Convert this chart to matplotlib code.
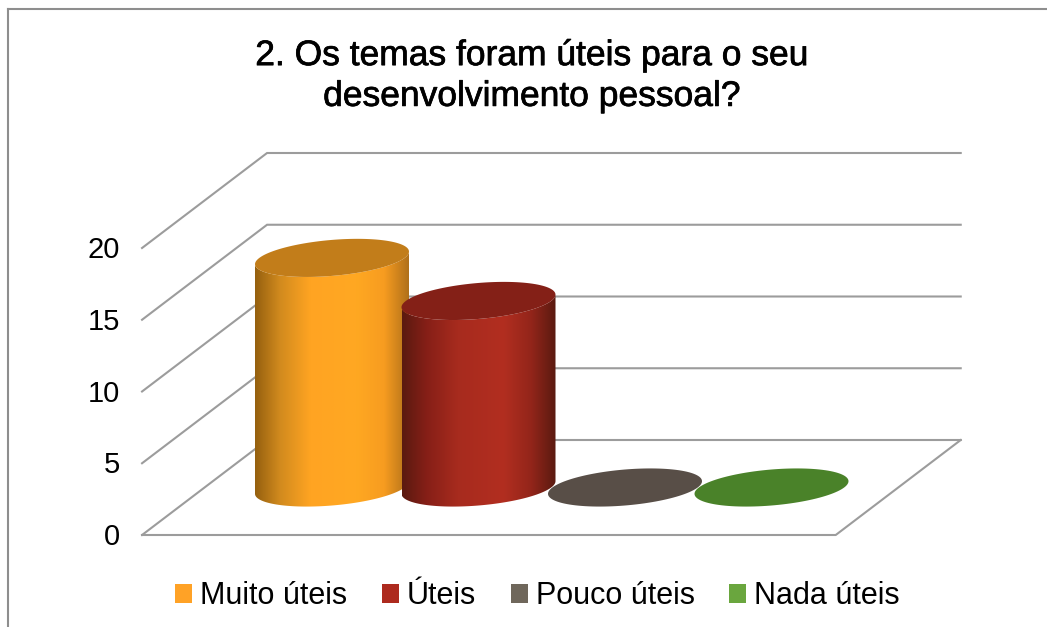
#!/usr/bin/env python3
"""Pseudo-3D cylinder chart: usefulness of the themes."""

import matplotlib

matplotlib.use("Agg")

import matplotlib.patheffects as pe
import matplotlib.pyplot as plt
import numpy as np
from matplotlib.colors import LinearSegmentedColormap
from matplotlib.lines import Line2D
from matplotlib.patches import Patch, PathPatch, Polygon
from matplotlib.path import Path

TITLE = "2. Os temas foram úteis para o seu\ndesenvolvimento pessoal?"
categories = ["Muito úteis", "Úteis", "Pouco úteis", "Nada úteis"]
values = [16, 13, 0, 0]
value_ticks = [0, 5, 10, 15, 20]

legend_colors = ["#FFA226", "#AD2A1E", "#6F675B", "#6AA63E"]
top_colors = ["#C27D1A", "#842017", "#584E47", "#4A8229"]
side_stops = [
    ["#95600F", "#D18A1E", "#FFA422", "#FFA822", "#F79C20", "#B0701A"],
    ["#5A1A10", "#861F17", "#A72B1E", "#B22E20", "#93251A", "#5A1A10"],
    ["#584E47"] * 6,
    ["#4A8229"] * 6,
]
stop_pos = [0.0, 0.16, 0.36, 0.66, 0.84, 1.0]

# pixel layout of the figure, everything else is derived in chart units
W, H = 1047, 627
SLOT_PX, SLOT0_PX = 146.5, 332.0
UNIT_PX, BASE_PX = 14.35, 487.5
DEPTH_X, DEPTH_Y = 62.5 / SLOT_PX, 47.5 / UNIT_PX
FLOOR_LEFT, FLOOR_RIGHT = -0.87, 3.865
RX, RY, SHEAR = 77 / SLOT_PX, 18 / UNIT_PX, 6.3 / UNIT_PX
GRID = "#9C9C9C"
FONT = "Liberation Sans"


def project(slot, value, depth):
    """Chart position of a point, depth -1 is the front and +1 the back."""
    return slot + depth * DEPTH_X, value + depth * DEPTH_Y


def ellipse(slot, value, n=120):
    t = np.linspace(0, 2 * np.pi, n)
    return np.column_stack(
        [slot + RX * np.cos(t), value + RY * np.sin(t) + SHEAR * np.cos(t)]
    )


def body_path(slot, value, n=80):
    """Outline of the cylinder side: lower edge of the top, lower edge of the base."""
    t = np.linspace(np.pi, 2 * np.pi, n)
    x = slot + RX * np.cos(t)
    low = RY * np.sin(t) + SHEAR * np.cos(t)
    pts = np.vstack(
        [
            np.column_stack([x, low]),
            np.column_stack([x[::-1], value + low[::-1]]),
        ]
    )
    return Path(np.vstack([pts, pts[0]]), closed=True)


fig = plt.figure(figsize=(W / 100, H / 100), dpi=100, facecolor="white")
ax = fig.add_axes([0, 0, 1, 1])
ax.axis("off")

# frame of the chart area, only top and left are visible
fig.add_artist(Line2D([8 / W, 8 / W], [0, 1 - 9 / H], color="#8E8E8E", lw=1.5))
fig.add_artist(Line2D([8 / W, 1], [1 - 9 / H, 1 - 9 / H], color="#8E8E8E", lw=1.5))

fig.text(
    532 / W, 1 - 76 / H, TITLE, ha="center", va="center", fontsize=25.5,
    family=FONT, color="black", linespacing=1.3,
    path_effects=[pe.withStroke(linewidth=0.5, foreground="black")],
)

# walls and floor
for v in value_ticks:
    xs, ys = zip(
        project(FLOOR_LEFT, v, -1), project(FLOOR_LEFT, v, 1), project(FLOOR_RIGHT, v, 1)
    )
    ax.plot(xs, ys, color=GRID, lw=1.5, solid_joinstyle="miter", zorder=1)
    ax.text(
        xs[0] - 22 / SLOT_PX, v - DEPTH_Y - 2 / UNIT_PX, str(v), ha="right",
        va="center", fontsize=21, family=FONT, color="black",
    )
xs, ys = zip(
    project(FLOOR_LEFT, 0, -1), project(FLOOR_RIGHT, 0, -1), project(FLOOR_RIGHT, 0, 1)
)
ax.plot(xs, ys, color=GRID, lw=1.5, zorder=1)

# cylinders
for i, v in enumerate(values):
    if v > 0:
        cmap = LinearSegmentedColormap.from_list(
            f"side{i}", list(zip(stop_pos, side_stops[i]))
        )
        im = ax.imshow(
            np.linspace(0, 1, 256)[None, :], cmap=cmap, aspect="auto", vmin=0, vmax=1,
            extent=[i - RX, i + RX, -RY - SHEAR, v + RY + SHEAR],
            zorder=2 + i, interpolation="bilinear",
        )
        clip = PathPatch(body_path(i, v), transform=ax.transData, fc="none", ec="none")
        ax.add_patch(clip)
        im.set_clip_path(clip)
    ax.add_patch(Polygon(ellipse(i, v), closed=True, fc=top_colors[i], ec="none", zorder=2.5 + i))

ax.set_xlim(-SLOT0_PX / SLOT_PX, (W - SLOT0_PX) / SLOT_PX)
ax.set_ylim((BASE_PX - H) / UNIT_PX, BASE_PX / UNIT_PX)

handles = [Patch(fc=c, ec="none", label=n) for c, n in zip(legend_colors, categories)]
fig.legend(
    handles=handles, loc="center", bbox_to_anchor=(537.5 / W, 1 - 596 / H), ncols=4,
    frameon=False, prop={"family": FONT, "size": 22}, handlelength=0.56,
    handleheight=0.56, handletextpad=0.26, columnspacing=1.13,
)

fig.savefig("out.png", dpi=100)
plt.close(fig)
